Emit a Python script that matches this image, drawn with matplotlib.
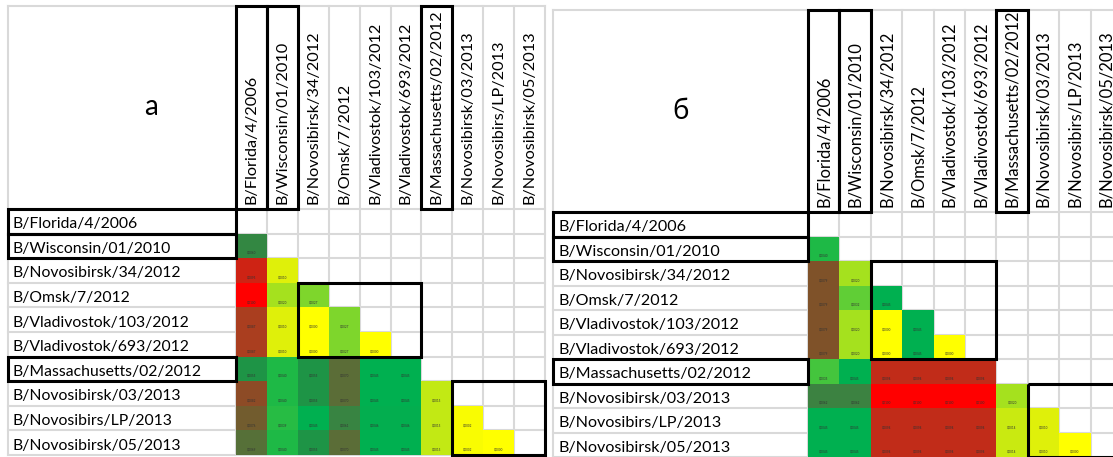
import numpy as np
import matplotlib.pyplot as plt
from matplotlib.colors import LinearSegmentedColormap
from matplotlib.patches import Rectangle

plt.rcParams['font.family'] = ['Lato', 'Noto Sans', 'DejaVu Sans']

# strain names (rows and columns are the same)
strains = ['B/Florida/4/2006', 'B/Wisconsin/01/2010', 'B/Novosibirsk/34/2012',
           'B/Omsk/7/2012', 'B/Vladivostok/103/2012', 'B/Vladivostok/693/2012',
           'B/Massachusetts/02/2012', 'B/Novosibirsk/03/2013',
           'B/Novosibirs/LP/2013', 'B/Novosibirsk/05/2013']

# reference strains (framed labels)
ref_idx = [0, 1, 6]

# lower-triangle scores (0 = close, 1 = far)
vals_a = [
    [],
    [0.60],
    [0.95, 0.10],
    [1.00, 0.20, 0.27],
    [0.87, 0.10, 0.00, 0.27],
    [0.87, 0.10, 0.00, 0.27, 0.00],
    [0.55, 0.40, 0.55, 0.70, 0.45, 0.45],
    [0.82, 0.40, 0.55, 0.70, 0.45, 0.45, 0.15],
    [0.76, 0.39, 0.45, 0.61, 0.46, 0.46, 0.15, 0.02],
    [0.69, 0.40, 0.55, 0.70, 0.45, 0.45, 0.15, 0.02, 0.00],
]
vals_b = [
    [],
    [0.40],
    [0.79, 0.20],
    [0.79, 0.32, 0.45],
    [0.79, 0.20, 0.00, 0.45],
    [0.79, 0.20, 0.00, 0.45, 0.00],
    [0.355, 0.45, 0.94, 0.94, 0.94, 0.94],
    [0.62, 0.62, 1.00, 1.00, 1.00, 1.00, 0.20],
    [0.45, 0.45, 0.94, 0.94, 0.94, 0.94, 0.14, 0.10],
    [0.45, 0.45, 0.94, 0.94, 0.94, 0.94, 0.14, 0.10, 0.00],
]

# framed blocks: (row_start, row_end, col_start, col_end)
blocks_a = [(3, 6, 2, 6), (7, 10, 7, 10)]
blocks_b = [(2, 6, 2, 6), (7, 10, 7, 10)]

cmap = LinearSegmentedColormap.from_list('yg_br', [
    (0.00, '#ffff00'), (0.10, '#def00a'), (0.20, '#a5e11e'), (0.30, '#6ed232'),
    (0.40, '#1eb946'), (0.45, '#00b050'), (0.55, '#1e9446'), (0.62, '#3c8241'),
    (0.70, '#5a6e37'), (0.80, '#825028'), (0.88, '#af3c1e'), (0.94, '#c02d19'),
    (1.00, '#ff0000')])

W, H = 1113, 457
fig = plt.figure(figsize=(W / 100, H / 100), dpi=100)

GRID = '#d9d9d9'


def panel(title, title_frac, vals, blocks, left, col0, cw, top, hdr, rh, right,
          fs_row, fs_col):
    n = len(strains)
    bottom = min(hdr + n * rh, H)
    ax = fig.add_axes([left / W, 1 - bottom / H, (right - left) / W, (bottom - top) / H])
    lw_u = (col0 - left) / cw
    hh_u = (hdr - top) / rh
    ax.set_xlim(-lw_u, (right - col0) / cw)
    ax.set_ylim((bottom - hdr) / rh, -hh_u)
    ax.axis('off')

    # sheet grid
    for c in range(n + 1):
        ax.plot([c, c], [-hh_u, n], color=GRID, lw=1.5, zorder=1, clip_on=False)
    ax.plot([-lw_u, -lw_u], [-hh_u, n], color=GRID, lw=1.5, zorder=1, clip_on=False)
    for r in range(n + 1):
        ax.plot([-lw_u, n], [r, r], color=GRID, lw=1.5, zorder=1, clip_on=False)
    ax.plot([-lw_u, n], [-hh_u, -hh_u], color=GRID, lw=1.5, zorder=1, clip_on=False)

    M = np.full((n, n), np.nan)
    for i, row in enumerate(vals):
        M[i, :len(row)] = row
    ax.pcolormesh(np.arange(n + 1), np.arange(n + 1), np.ma.masked_invalid(M),
                  cmap=cmap, vmin=0, vmax=1, zorder=2)
    for i, row in enumerate(vals):
        for j, v in enumerate(row):
            ax.text(j + 0.5, i + 0.78, f'{v / 100:.4f}'.replace('.', ','),
                    fontsize=2.2, color='#333333', ha='center', va='center', zorder=3)

    for i, s in enumerate(strains):
        ax.text(-lw_u + 5 / cw, i + 0.78, s, fontsize=fs_row, ha='left', va='baseline',
                zorder=3)
        ax.text(i + 0.5, -5 / rh, s, fontsize=fs_col, rotation=90, rotation_mode='anchor',
                ha='left', va='center', zorder=3)

    ax.text(-lw_u * (1 - title_frac), -hh_u / 2, title, fontsize=20,
            ha='center', va='center')

    for i in ref_idx:
        ax.add_patch(Rectangle((-lw_u, i), lw_u, 1, fill=False, ec='black', lw=2.2,
                               zorder=4, clip_on=False))
        ax.add_patch(Rectangle((i, -hh_u), 1, hh_u, fill=False, ec='black', lw=2.2,
                               zorder=4, clip_on=False))
    for r0, r1, c0, c1 in blocks:
        ax.add_patch(Rectangle((c0, r0), c1 - c0, r1 - r0, fill=False, ec='black', lw=2.2,
                               zorder=4, clip_on=False))


panel('а', 0.627, vals_a, blocks_a, left=8, col0=236, cw=30.9, top=6, hdr=209, rh=24.6,
      right=546, fs_row=11.3, fs_col=11.7)
panel('б', 0.5, vals_b, blocks_b, left=553, col0=808, cw=31.4, top=10, hdr=212, rh=24.5,
      right=1113, fs_row=11.6, fs_col=11.9)

fig.savefig('out.png', dpi=100)
